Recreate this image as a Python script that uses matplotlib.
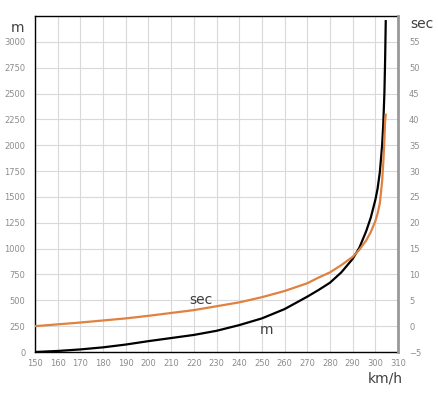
import numpy as np
import matplotlib.pyplot as plt

# speed (km/h) and the two curves
speed = [150, 160, 170, 180, 190, 200, 210, 220, 230, 240, 250, 260, 270, 275,
         280, 285, 290, 293, 296, 298, 300, 301, 302, 303, 303.5, 304, 304.3, 304.6]
dist_m = [0, 10, 25, 45, 72, 105, 135, 165, 205, 260, 325, 415, 535, 600,
          670, 770, 900, 1010, 1170, 1300, 1470, 1580, 1740, 2000, 2200, 2500, 2800, 3200]
time_sec = [0, 0.35, 0.7, 1.1, 1.5, 2.0, 2.55, 3.1, 3.85, 4.6, 5.6, 6.8, 8.3, 9.4,
            10.4, 11.8, 13.4, 14.8, 16.6, 18.2, 20.3, 21.8, 23.8, 28, 31.5, 36, 39.5, 40.9]

x_ticks = list(range(150, 311, 10))
m_ticks = list(range(0, 3001, 250))
sec_ticks = list(range(-5, 56, 5))

tick_col = '#8c8c8c'
lab_col = '#404040'
orange = '#E0813F'

fig = plt.figure(figsize=(4.39, 3.95), dpi=100)
ax = fig.add_axes([35/439, 43/395, 363/439, 336/395])
ax2 = ax.twinx()

ax.plot(speed, dist_m, color='black', lw=1.6, zorder=3)
ax2.plot(speed, time_sec, color=orange, lw=1.6, zorder=3)

ax.set_xlim(150, 310)
ax.set_ylim(0, 3250)
ax2.set_ylim(-5, 60)

ax.set_xticks(x_ticks)
ax.set_yticks(m_ticks)
ax2.set_yticks(sec_ticks)
ax.grid(True, color='#d9d9d9', lw=0.8)
ax.set_axisbelow(True)

ax.tick_params(axis='x', length=0, pad=5, labelsize=6, labelcolor=tick_col)
ax.tick_params(axis='y', length=0, pad=7, labelsize=6, labelcolor=tick_col)
ax2.tick_params(axis='y', length=0, pad=8, labelsize=6, labelcolor=tick_col)

for s in ['left', 'bottom', 'top']:
    ax.spines[s].set_color('black')
    ax.spines[s].set_linewidth(1.0)
ax.spines['right'].set_visible(False)
for s in ['left', 'bottom', 'top']:
    ax2.spines[s].set_visible(False)
ax2.spines['right'].set_color('#999999')
ax2.spines['right'].set_linewidth(2.0)

# axis titles
fig.text(18/439, 1 - 28/395, 'm', fontsize=10, color=lab_col, ha='center', va='center')
fig.text(422/439, 1 - 24/395, 'sec', fontsize=10, color=lab_col, ha='center', va='center')
fig.text(385/439, 1 - 378/395, 'km/h', fontsize=10, color=lab_col, ha='center', va='center')

# curve labels
ax.text(223, 500, 'sec', fontsize=10, color=lab_col, ha='center', va='center')
ax.text(252, 208, 'm', fontsize=10, color=lab_col, ha='center', va='center')

fig.savefig('out.png', dpi=100)
